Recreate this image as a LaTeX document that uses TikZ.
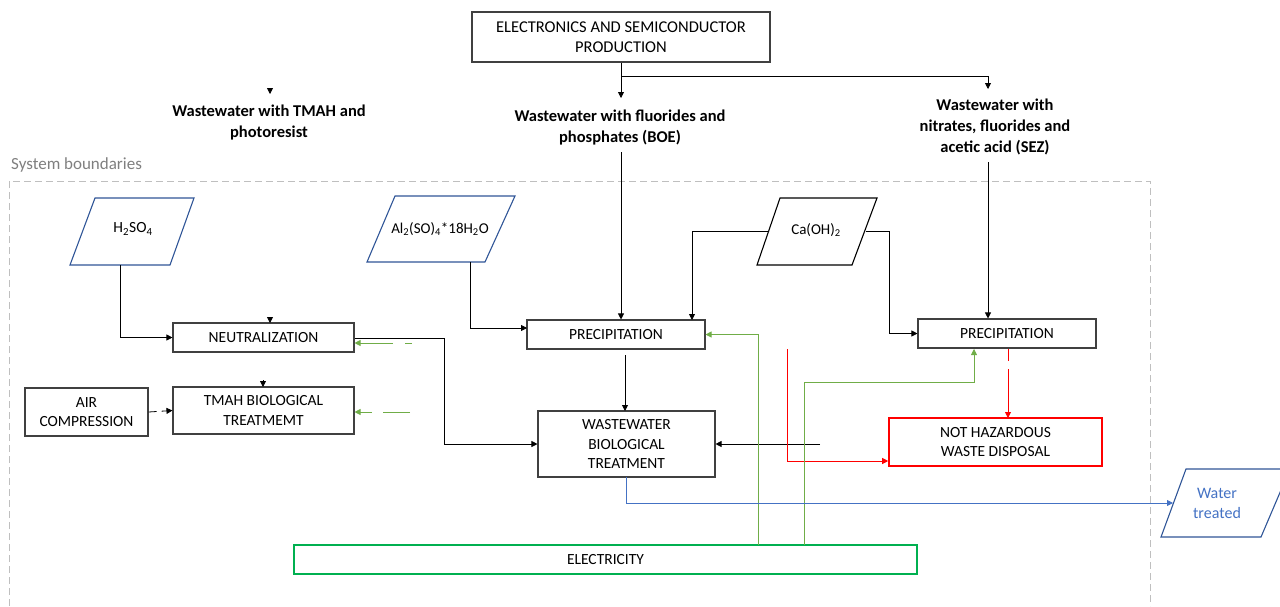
\documentclass[tikz,border=0pt]{standalone}
\usepackage{fontspec}
\setmainfont{Carlito}
\usetikzlibrary{arrows.meta}
\definecolor{boxgray}{HTML}{404040}
\definecolor{pblue}{HTML}{2F5597}
\definecolor{lblue}{HTML}{4472C4}
\definecolor{lgreen}{HTML}{70AD47}
\definecolor{egreen}{HTML}{00B050}
\definecolor{bgray}{HTML}{BFBFBF}
\definecolor{sgray}{HTML}{7F7F7F}
\tikzset{
  box/.style={draw=boxgray, line width=1.1pt, align=center, inner sep=0pt},
  hdr/.style={align=center, font=\fontsize{16.5}{21}\selectfont\bfseries},
  ptext/.style={align=center, font=\fontsize{15.5}{20}\selectfont},
  arr/.style={line width=0.8pt, -{Triangle[length=6pt,width=6pt]}},
  conn/.style={line width=0.8pt},
  para/.style={line width=1.1pt},
}
\begin{document}
\begin{tikzpicture}[x=1pt,y=-1pt,font=\fontsize{15.5}{19.5}\selectfont]
\useasboundingbox (0,0) rectangle (1280,606);

% system boundary
\draw[bgray, line width=1pt, dash pattern=on 7pt off 4pt] (9,606) -- (9,181) -- (1150,181) -- (1150,606);
\node[anchor=west, text=sgray, inner sep=0pt, font=\fontsize{17}{20}\selectfont] (sysb) at (11,165) {System boundaries};

% boxes
\node[box, minimum width=298pt, minimum height=50pt, font=\fontsize{16.5}{20}\selectfont] (title) at (621,37) {ELECTRONICS AND SEMICONDUCTOR\\PRODUCTION};
\node[box, minimum width=181pt, minimum height=29pt] (neut) at (263.5,337.5) {NEUTRALIZATION};
\node[box, minimum width=181pt, minimum height=47pt] (tmah) at (263.5,410.5) {TMAH BIOLOGICAL\\TREATMEMT};
\node[box, minimum width=123pt, minimum height=48pt] (air) at (86.5,412) {AIR\\COMPRESSION};
\node[box, minimum width=178pt, minimum height=29pt] (prec1) at (616,334.5) {PRECIPITATION};
\node[box, minimum width=178pt, minimum height=29pt] (prec2) at (1007,333.5) {PRECIPITATION};
\node[box, minimum width=177pt, minimum height=66pt] (wwbt) at (626.5,444) {WASTEWATER\\BIOLOGICAL\\TREATMENT};
\node[box, draw=red, line width=1.6pt, minimum width=213pt, minimum height=48pt] (nothaz) at (995.5,442) {NOT HAZARDOUS\\WASTE DISPOSAL};
\node[box, draw=egreen, line width=1.4pt, minimum width=623pt, minimum height=29pt] (elec) at (605.5,559.5) {ELECTRICITY};

% header texts
\node[hdr] (tmahtxt) at (269,122.5) {Wastewater with TMAH and\\photoresist};
\node[hdr] (boetxt) at (620,127.5) {Wastewater with fluorides and\\phosphates (BOE)};
\node[hdr] (seztxt) at (995,127) {Wastewater with\\nitrates, fluorides and\\acetic acid (SEZ)};

% parallelograms
\draw[pblue, para] (70,265) -- (95,198) -- (194,198) -- (170,265) -- cycle;
\node[ptext] (h2so4) at (133,229) {H\textsubscript{2}SO\textsubscript{4}};
\coordinate (h2so4b) at (120,265);

\draw[pblue, para] (367,262) -- (395,196) -- (515,196) -- (485,262) -- cycle;
\node[ptext, font=\fontsize{15}{20}\selectfont] (al) at (440,229) {Al\textsubscript{2}(SO)\textsubscript{4}*18H\textsubscript{2}O};
\coordinate (alb) at (470,262);

\draw[black, para] (757,265) -- (780,198) -- (877,198) -- (852,265) -- cycle;
\node[ptext, font=\fontsize{15}{20}\selectfont] (ca) at (816,230) {Ca(OH)\textsubscript{2}};
\coordinate (cal) at (768,231);
\coordinate (car) at (866,231);

\draw[pblue, para] (1161,537) -- (1186,469) -- (1290,469) -- (1261,537) -- cycle;
\node[ptext, text=lblue, font=\fontsize{16}{20}\selectfont] (water) at (1217,503) {Water\\treated};
\coordinate (waterl) at (1173,503);

% connectors from title
\coordinate (split) at (621,76);
\draw[arr] (title.south -| split) -- (621,98);
\draw[arr] (split) -- (988,76) -- (988,89);
\draw[arr] (270,88) -- (270,94);

% into precipitations
\draw[arr] (621,152) -- (prec1.north -| 621,0);
\draw[arr] (988,162) -- (prec2.north -| 988,0);
\draw[arr] (alb) |- (527,328);
\draw[arr] (cal) -- (692,231) -- (692,320);
\draw[arr] (car) -- (889,231) |- (prec2.west);

% left side
\draw[arr] (h2so4b) |- (neut.west);
\draw[arr] (270,317) -- (270,323);
\draw[arr] (263,380) -- (263,387);
\draw[arr, dash pattern=on 8pt off 5pt on 20pt] (air.east) -- (tmah.west);
\draw[arr, lgreen, dash pattern=on 7pt off 12pt on 45pt] (412,343) -- (neut.east |- 0,343);
\draw[arr, lgreen, dash pattern=on 27pt off 11pt on 30pt] (410,412) -- (tmah.east |- 0,412);
\draw[arr] (neut.east |- 0,338) -- (444,338) |- (wwbt.west);

% center
\draw[arr] (625,355) -- (625,411);
\coordinate (blk) at (820,444);
\draw[arr] (blk) -- (wwbt.east |- blk);

% red
\draw[arr, red, dash pattern=on 12pt off 8pt on 60pt] (1008,349) -- (1008,418);
\coordinate (redst) at (787,349);
\draw[arr, red] (redst) |- (nothaz.west |- 0,461);

% green electricity
\draw[arr, lgreen] (758,545) |- (prec1.east);
\draw[arr, lgreen] (804,545) -- (804,382) -- (974,382) -- (974,349);

% blue treated water
\draw[arr, lblue] (626,477) |- (waterl);
\end{tikzpicture}
\end{document}
